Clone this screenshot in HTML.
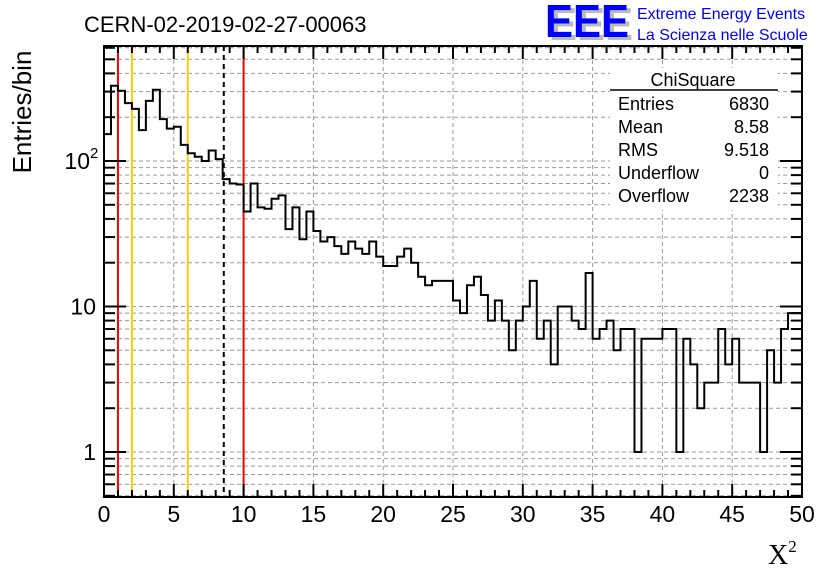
<!DOCTYPE html>
<html><head><meta charset="utf-8"><style>
body{margin:0;background:#fff;}
svg{display:block;font-family:"Liberation Sans",sans-serif;}
</style></head><body>
<svg id="c" width="836" height="572" viewBox="0 0 836 572">
<rect width="836" height="572" fill="#fff"/>
<g id="grid"></g>
<g id="vlines"></g>
<path id="hist" fill="none" stroke="#000" stroke-width="2"/>
<g id="stats">
<rect x="610" y="68" width="168" height="142" fill="#fff"/>
<text x="693" y="86" font-size="18" text-anchor="middle">ChiSquare</text>
<line x1="610" y1="90" x2="778" y2="90" stroke="#000" stroke-width="1.5"/>
<g font-size="18">
<text x="618" y="110">Entries</text><text x="769" y="110" text-anchor="end">6830</text>
<text x="618" y="133">Mean</text><text x="769" y="133" text-anchor="end">8.58</text>
<text x="618" y="156">RMS</text><text x="769" y="156" text-anchor="end">9.518</text>
<text x="618" y="179">Underflow</text><text x="769" y="179" text-anchor="end">0</text>
<text x="618" y="202">Overflow</text><text x="769" y="202" text-anchor="end">2238</text>
</g></g>
<g id="axes"></g>
<text x="84" y="32" font-size="22">CERN-02-2019-02-27-00063</text>
<g>
<text x="549" y="40" font-size="46" font-weight="bold" fill="#bbb" textLength="84" lengthAdjust="spacingAndGlyphs">EEE</text>
<text x="545" y="37" font-size="46" font-weight="bold" fill="#0000ff" textLength="84" lengthAdjust="spacingAndGlyphs">EEE</text>
<text x="637" y="19" font-size="16" fill="#0000ff">Extreme Energy Events</text>
<text x="637" y="40" font-size="16" fill="#0000ff">La Scienza nelle Scuole</text>
</g>
<text transform="translate(31,112) rotate(-90)" font-size="26" text-anchor="middle">Entries/bin</text>
<text x="768" y="564" font-size="28" font-family="Liberation Serif,serif">X<tspan font-size="17" dy="-12">2</tspan></text>
</svg>
<script>
const counts=[153,329,304,250,228,163,259,309,194,167,172,129,113,107,100,118,103,75,70,69,
45,70,48,47,55,58,34,48,29,45,33,28,30,26,23,28,25,23,28,22,
19,19,22,25,20,16,14,15,15,15,11,9,14,16,12,8,11,8,5,8,
10,15,6,8,4,10,10,8,7,17,6,7,8,5,7,7,1,6,6,6,
7,7,1,6,4,2,3,3,7,4,6,3,3,3,1,5,3,7,9,9];
const binWidth=0.5;
const xTicks=[0,5,10,15,20,25,30,35,40,45,50];
const yTickValues=[1,10,100];
const yTickBase=["1","10","10"];
const yTickSup=["","","2"];
const markerLines=[1,2,6,8.58,10];
const markerColors=["#f00","#fc0","#fc0","#000","#f00"];
const NS="http://www.w3.org/2000/svg";
const X0=104,X1=802,Y0=497,Y1=46;
const xs=v=>X0+(v/50)*(X1-X0);
const ys=v=>452-Math.log10(v)*145.5;
function mk(p,t,a){const e=document.createElementNS(NS,t);for(const k in a)e.setAttribute(k,a[k]);p.appendChild(e);return e;}
const grid=document.getElementById('grid');
for(const t of xTicks){if(t>0&&t<50){const l=mk(grid,'line',{x1:xs(t),x2:xs(t),y1:Y1,y2:Y0,stroke:'#999','stroke-dasharray':'4,3','stroke-width':1});

}}
const yMinor=[];
for(let d=0;d<4;d++)for(let m=1;m<10;m++){const v=m*Math.pow(10,d-1);const y=ys(v);if(y<Y0-1&&y>Y1+1)yMinor.push([v,m]);}
for(const [v] of yMinor){const l=mk(grid,'line',{x1:X0,x2:X1,y1:ys(v),y2:ys(v),stroke:'#999','stroke-dasharray':'4,3','stroke-width':1});

}
const vl=document.getElementById('vlines');
markerLines.forEach((v,i)=>{const l=mk(vl,'line',{x1:xs(v),x2:xs(v),y1:Y1,y2:Y0,stroke:markerColors[i],'stroke-width':2});
if(i==3)l.setAttribute('stroke-dasharray','5,4');

});
let d=`M${xs(0)},${Y0}`;
counts.forEach((c,i)=>{const y=ys(c);d+=` L${xs(i*binWidth)},${y} L${xs((i+1)*binWidth)},${y}`;});
document.getElementById('hist').setAttribute('d',d);
const ax=document.getElementById('axes');
mk(ax,'rect',{x:X0,y:Y1,width:X1-X0,height:Y0-Y1,fill:'none',stroke:'#000','stroke-width':2});
for(let v=0;v<=50;v++){const maj=v%5==0;const L=maj?13:7;
mk(ax,'line',{x1:xs(v),x2:xs(v),y1:Y0,y2:Y0-L,stroke:'#000','stroke-width':2});
mk(ax,'line',{x1:xs(v),x2:xs(v),y1:Y1,y2:Y1+L,stroke:'#000','stroke-width':2});}
for(const t of xTicks){const e=mk(ax,'text',{x:xs(t),y:522,'font-size':23,'text-anchor':'middle'});e.textContent=t;

}
for(const [v,m] of yMinor){const L=m==1?22:11;
mk(ax,'line',{x1:X0,x2:X0+L,y1:ys(v),y2:ys(v),stroke:'#000','stroke-width':2});
mk(ax,'line',{x1:X1,x2:X1-L,y1:ys(v),y2:ys(v),stroke:'#000','stroke-width':2});}
yTickValues.forEach((v,i)=>{const sup=yTickSup[i];
const e=mk(ax,'text',{x:sup?90:96,y:ys(v)+8,'font-size':23,'text-anchor':'end'});e.textContent=yTickBase[i];


if(sup){const s=mk(ax,'text',{x:90,y:ys(v)-3,'font-size':15});s.textContent=sup;}});
</script>
</body></html>
